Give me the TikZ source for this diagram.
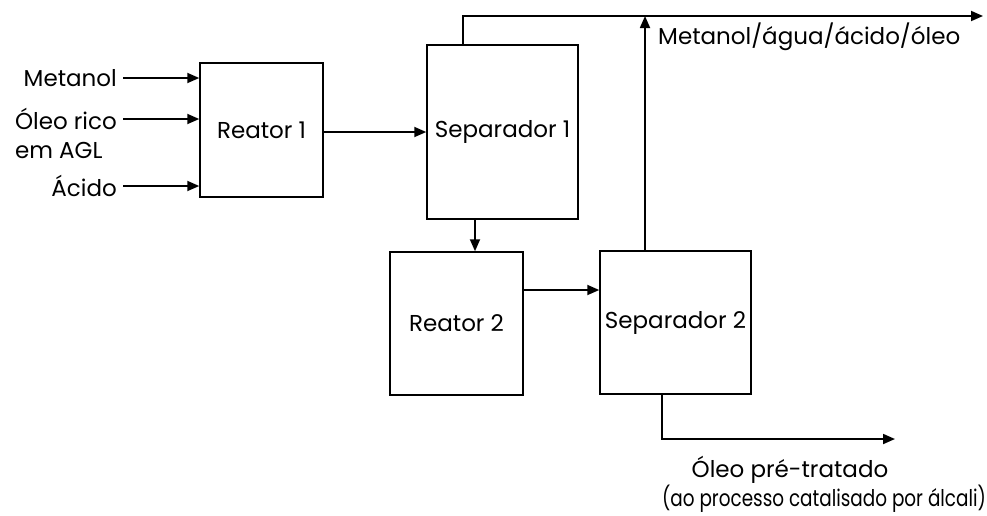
\documentclass[tikz,border=0pt]{standalone}
\usepackage{fontspec}
\setmainfont{Poppins}
\usetikzlibrary{arrows.meta,calc}

\tikzset{
  unitbox/.style={draw=black, line width=1.5pt, rectangle, inner sep=0pt,
    font=\fontsize{23}{26}\selectfont},
  flow/.style={line width=1.8pt, -{Triangle[length=12pt,width=10pt]}},
  lbl/.style={font=\fontsize{23}{29}\selectfont, inner sep=0pt},
}

\begin{document}
\begin{tikzpicture}[x=1pt,y=-1pt]
  \useasboundingbox (0,0) rectangle (987,515);

  % process units
  \node[unitbox, minimum width=123pt, minimum height=134pt] (r1) at (261.5,130) {Reator 1};
  \node[unitbox, minimum width=151pt, minimum height=174pt] (s1) at (502.5,132) {Separador 1};
  \node[unitbox, minimum width=133pt, minimum height=143pt] (r2) at (456.5,323.5) {Reator 2};
  \node[unitbox, minimum width=151pt, minimum height=143pt] (s2) at (675.5,322.5) {Separador 2};

  % feed labels
  \node[lbl, anchor=east] (met) at (117,78) {Metanol};
  \node[lbl, anchor=east, align=left] (oleo) at (117,133.5) {Óleo rico\\em AGL};
  \node[lbl, anchor=east] (acid) at (117,186) {Ácido};

  % feed stream start points
  \coordinate (metin) at (123,78);
  \coordinate (oleoin) at (123,119);
  \coordinate (acidin) at (123,186);

  % outlet end points
  \coordinate (topout) at (983,16);
  \coordinate (botout) at (895,439);

  % feeds into Reator 1
  \draw[flow] (metin) -- (metin -| r1.west);
  \draw[flow] (oleoin) -- (oleoin -| r1.west);
  \draw[flow] (acidin) -- (acidin -| r1.west);

  % Reator 1 to Separador 1
  \draw[flow] ([yshift=-2pt]r1.east) -- ([yshift=-2pt]r1.east -| s1.west);

  % Separador 1 overhead to the top line
  \draw[flow] ([xshift=-39.5pt]s1.north) |- (topout);

  % Separador 1 bottoms to Reator 2
  \draw[flow] ([xshift=-27.5pt]s1.south) -- ([xshift=-27.5pt]s1.south |- r2.north);

  % Reator 2 to Separador 2
  \draw[flow] ([yshift=33.5pt]r2.east) -- ([yshift=33.5pt]r2.east -| s2.west);

  % Separador 2 overhead joins the top line
  \draw[flow] ([xshift=-30.5pt]s2.north) -- ([xshift=-30.5pt]s2.north |- topout);

  % Separador 2 bottoms: pretreated oil
  \draw[flow] ([xshift=-13.5pt]s2.south) |- (botout);

  % outlet labels
  \node[lbl, anchor=west] (toplbl) at (658,37) {Metanol/água/ácido/óleo};
  \node[lbl] (botlbl1) at (790,470) {Óleo pré-tratado};
  \node[lbl] (botlbl2) at (824,499) {\scalebox{0.8}[1]{(ao processo catalisado por álcali)}};
\end{tikzpicture}
\end{document}
